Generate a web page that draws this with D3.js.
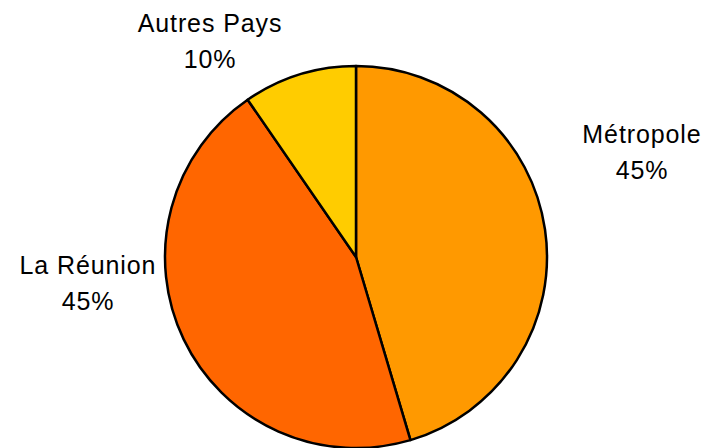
<!DOCTYPE html>
<html>
<head>
<meta charset="utf-8">
<script src="https://cdn.jsdelivr.net/npm/d3@7"></script>
<style>
  body { margin: 0; background: #fff; }
  text { font-family: "Liberation Sans", Arial, sans-serif; fill: #000; }
</style>
</head>
<body>
<div id="chart"></div>
<script>
// données
const categories = ['Métropole', 'La Réunion', 'Autres Pays'];
const values = [45.4, 45.0, 9.6];
const colors = ['#FF9900', '#FF6600', '#FFCC00'];

const width = 709;
const height = 448;
const cx = 356, cy = 257, radius = 191;

// position des étiquettes (centre du bloc de texte)
const labelPos = [[642, 143], [88, 274], [210, 32]];

const svg = d3.select('#chart')
  .append('svg')
  .attr('width', width)
  .attr('height', height);

const pie = d3.pie().sort(null).value(d => d)(values);
const arc = d3.arc().innerRadius(0).outerRadius(radius);

const g = svg.append('g').attr('transform', `translate(${cx},${cy})`);

g.selectAll('path')
  .data(pie)
  .enter()
  .append('path')
  .attr('d', arc)
  .attr('fill', (d, i) => colors[i])
  .attr('stroke', '#000')
  .attr('stroke-width', 2.5)
  .attr('stroke-linejoin', 'round');

const total = d3.sum(values);
const labels = svg.append('g')
  .selectAll('text')
  .data(categories)
  .enter()
  .append('text')
  .attr('text-anchor', 'middle')
  .style('font-size', '25px')
  .style('letter-spacing', '0.9px');

labels.append('tspan')
  .attr('x', (d, i) => labelPos[i][0])
  .attr('y', (d, i) => labelPos[i][1])
  .text(d => d);

labels.append('tspan')
  .attr('x', (d, i) => labelPos[i][0])
  .attr('y', (d, i) => labelPos[i][1] + 36)
  .text((d, i) => d3.format('.0%')(values[i] / total));
</script>
</body>
</html>
